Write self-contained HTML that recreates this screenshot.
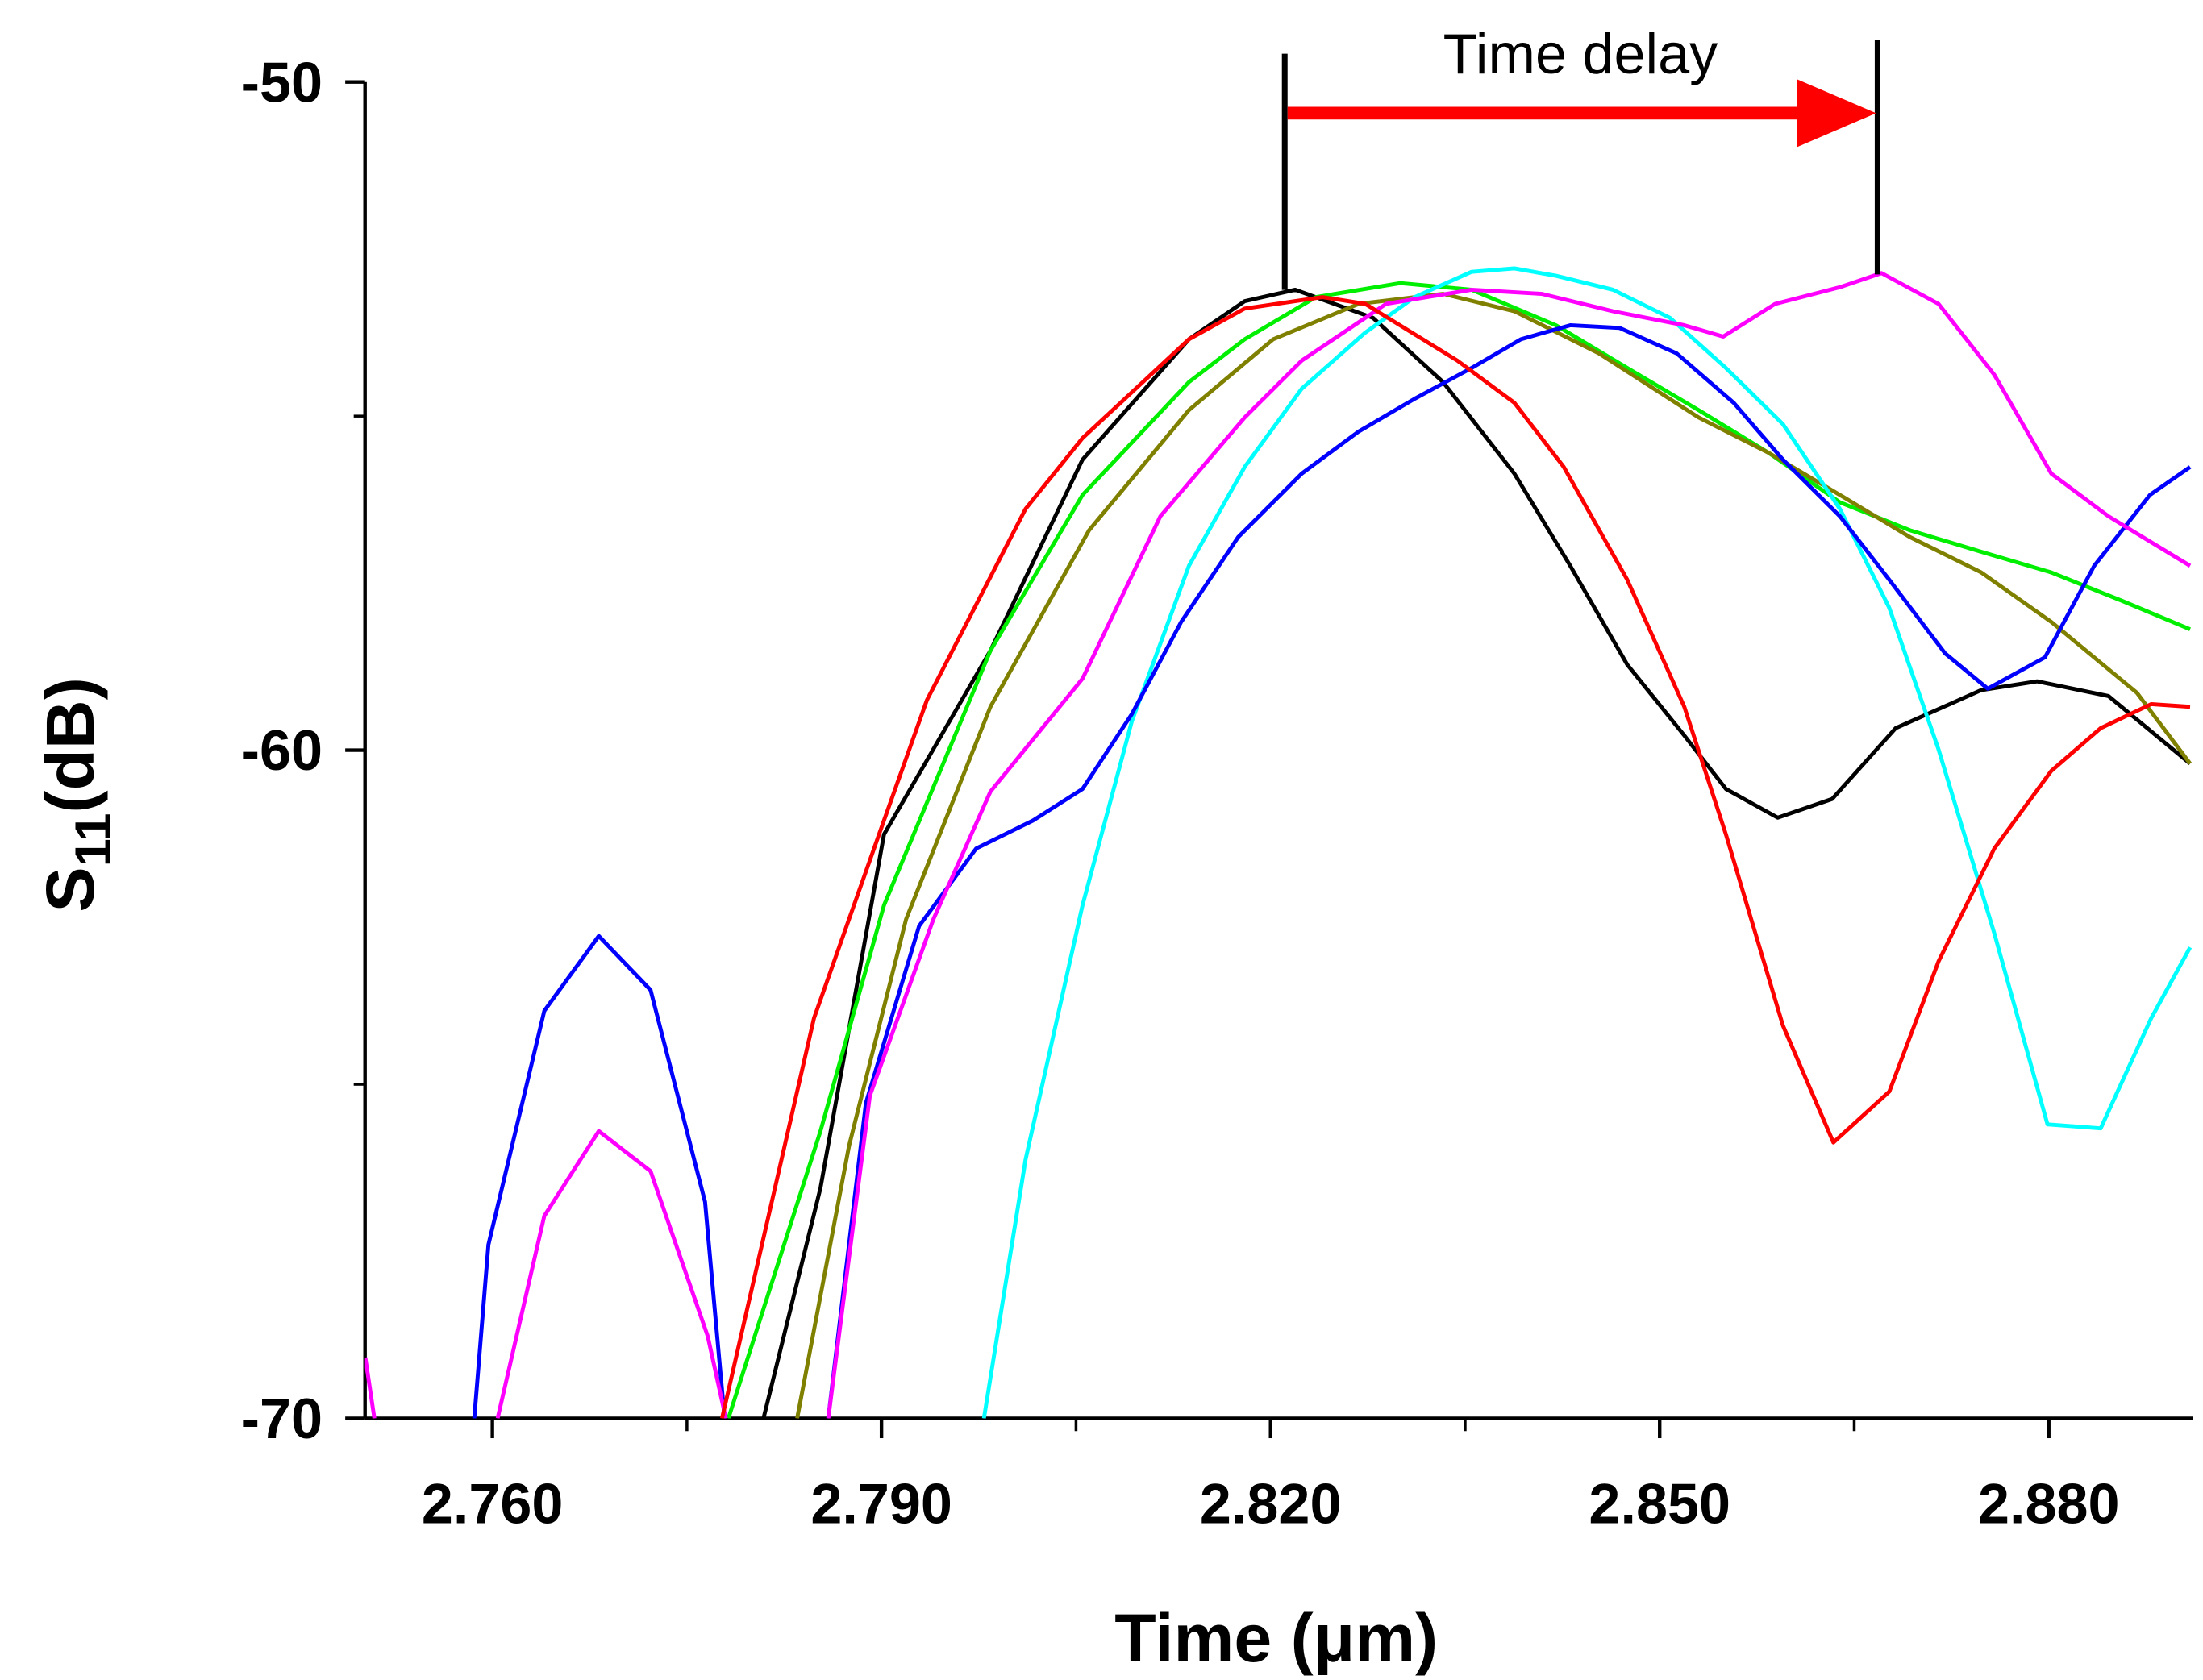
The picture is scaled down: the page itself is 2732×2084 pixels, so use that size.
<!DOCTYPE html>
<html><head><meta charset="utf-8"><style>
html,body{margin:0;padding:0;background:#fff;}
svg{display:block;}
</style></head><body>
<svg id="chart" width="2732" height="2084" viewBox="0 0 1557 1188" preserveAspectRatio="none" xmlns="http://www.w3.org/2000/svg" font-family="Liberation Sans, Arial, sans-serif">
<defs><clipPath id="plotclip"><rect x="258" y="0" width="1292" height="1003"/></clipPath></defs>
<g id="axes"></g>
<g id="series" clip-path="url(#plotclip)"></g>
<g id="annot">
  <line x1="908" y1="38" x2="908" y2="205" stroke="#000" stroke-width="4"/>
  <line x1="1327" y1="28" x2="1327" y2="194" stroke="#000" stroke-width="4"/>
  <line x1="910" y1="80" x2="1275" y2="80" stroke="#f00" stroke-width="9"/>
  <polygon points="1270,56 1326,80 1270,104" fill="#f00"/>
  <text x="1117" y="52" font-size="40" text-anchor="middle">Time delay</text>
</g>
<text x="902" y="1175" font-size="48" font-weight="bold" text-anchor="middle">Time (μm)</text>
<text transform="translate(66,562) rotate(-90)" font-size="48" font-weight="bold" text-anchor="middle">S<tspan font-size="36" dy="12">11</tspan><tspan dy="-12">(dB)</tspan></text>
</svg>
<script>
const xTicks=[2.760,2.790,2.820,2.850,2.880];
const xTickLabels=["2.760","2.790","2.820","2.850","2.880"];
const yTicks=[-50,-60,-70];
const yTickLabels=["-50","-60","-70"];
const blackT=[2.7809,2.7853,2.7902,2.7984,2.8055,2.8137,2.8180,2.8219,2.8279,2.8333,2.8388,2.8431,2.8475,2.8519,2.8551,2.8591,2.8633,2.8682,2.8748,2.8791,2.8846,2.8909];
const blackV=[-70,-66.55,-61.26,-58.51,-55.65,-53.85,-53.28,-53.11,-53.53,-54.49,-55.86,-57.24,-58.72,-59.78,-60.58,-61.01,-60.73,-59.67,-59.10,-58.97,-59.19,-60.20];
const redT=[2.7777,2.7848,2.7902,2.7935,2.8011,2.8055,2.8137,2.818,2.824,2.8273,2.8344,2.8388,2.8426,2.8475,2.8519,2.8551,2.8595,2.8634,2.8677,2.8715,2.8758,2.8802,2.8840,2.8879,2.8909];
const redV=[-70,-64.01,-61.05,-59.25,-56.39,-55.33,-53.85,-53.39,-53.22,-53.32,-54.17,-54.80,-55.76,-57.45,-59.35,-61.26,-64.12,-65.87,-65.11,-63.16,-61.47,-60.31,-59.67,-59.31,-59.35];
const greenT=[2.7782,2.7853,2.7902,2.7984,2.8055,2.8137,2.818,2.8235,2.830,2.8355,2.842,2.8475,2.853,2.8584,2.8639,2.8693,2.8748,2.8802,2.8857,2.8909];
const greenV=[-70,-65.70,-62.32,-58.51,-56.18,-54.49,-53.85,-53.22,-53.01,-53.11,-53.64,-54.28,-54.91,-55.55,-56.29,-56.71,-57.03,-57.34,-57.77,-58.19];
const oliveT=[2.7835,2.7875,2.7919,2.7984,2.806,2.8137,2.8202,2.8268,2.8333,2.8388,2.8453,2.853,2.8584,2.8639,2.8693,2.8748,2.8802,2.8868,2.8909];
const oliveV=[-70,-65.92,-62.53,-59.35,-56.71,-54.91,-53.85,-53.32,-53.17,-53.43,-54.06,-55.02,-55.55,-56.18,-56.81,-57.34,-58.08,-59.14,-60.20];
const magentaT=[2.7502,2.7509,null,2.7604,2.764,2.7682,2.7722,2.7766,2.778,null,2.7859,2.7891,2.794,2.7984,2.8055,2.8115,2.818,2.8224,2.8289,2.8355,2.8409,2.8464,2.8519,2.8549,2.8589,2.8639,2.8671,2.8715,2.8758,2.8802,2.8846,2.8909];
const magentaV=[-69.09,-70,null,-70,-66.97,-65.70,-66.30,-68.77,-70,null,-70,-65.17,-62.53,-60.62,-58.93,-56.50,-55.02,-54.17,-53.32,-53.11,-53.17,-53.43,-53.64,-53.81,-53.32,-53.07,-52.86,-53.32,-54.38,-55.86,-56.50,-57.24];
const blueT=[2.7586,2.7597,2.764,2.7682,2.7722,2.7764,2.7779,null,2.7859,2.7888,2.7929,2.7973,2.8017,2.8055,2.8093,2.8131,2.8175,2.8224,2.8268,2.8311,2.8355,2.8393,2.8431,2.8469,2.8513,2.8557,2.8595,2.8639,2.8677,2.872,2.8753,2.8797,2.8835,2.8878,2.8909];
const blueV=[-70,-67.40,-63.90,-62.78,-63.59,-66.76,-70,null,-70,-65.28,-62.63,-61.47,-61.05,-60.58,-59.46,-58.08,-56.81,-55.86,-55.23,-54.74,-54.28,-53.85,-53.64,-53.68,-54.06,-54.80,-55.65,-56.50,-57.45,-58.55,-59.08,-58.61,-57.24,-56.18,-55.76];
const cyanT=[2.7979,2.8011,2.8055,2.8093,2.8137,2.818,2.8224,2.8273,2.8311,2.8355,2.8388,2.842,2.8464,2.8508,2.8551,2.8595,2.8639,2.8677,2.8715,2.8758,2.8799,2.884,2.8879,2.8909];
const cyanV=[-70,-66.13,-62.32,-59.57,-57.24,-55.76,-54.59,-53.75,-53.22,-52.84,-52.79,-52.90,-53.11,-53.53,-54.28,-55.12,-56.39,-57.87,-59.99,-62.74,-65.60,-65.66,-64.01,-62.95];

const NS="http://www.w3.org/2000/svg";
function xs(t){return 348+(t-2.760)*9166.7;}
function ys(v){return 58+(-50-v)*47.25;}
function mk(tag,attrs,parent){const e=document.createElementNS(NS,tag);for(const k in attrs)e.setAttribute(k,attrs[k]);parent.appendChild(e);return e;}
const axes=document.getElementById('axes');
let e=mk('line',{x1:258,y1:58,x2:258,y2:1003,stroke:'#000','stroke-width':2.5},axes);


e=mk('line',{x1:258,y1:1003,x2:1550,y2:1003,stroke:'#000','stroke-width':2.5},axes);


yTicks.forEach((v,i)=>{
  const t=mk('line',{x1:244,y1:ys(v),x2:258,y2:ys(v),stroke:'#000','stroke-width':2.5},axes);
  
  
  const l=mk('text',{x:228,y:ys(v)+14,'font-size':40,'font-weight':'bold','text-anchor':'end'},axes);
  l.textContent=yTickLabels[i];
  
  
});
for(let i=0;i<yTicks.length-1;i++){
  const v=(yTicks[i]+yTicks[i+1])/2;
  const t=mk('line',{x1:250,y1:ys(v),x2:258,y2:ys(v),stroke:'#000','stroke-width':2},axes);
  
  
}
xTicks.forEach((v,i)=>{
  const t=mk('line',{x1:xs(v),y1:1003,x2:xs(v),y2:1017,stroke:'#000','stroke-width':2.5},axes);
  
  
  const l=mk('text',{x:xs(v),y:1077,'font-size':40,'font-weight':'bold','text-anchor':'middle'},axes);
  l.textContent=xTickLabels[i];
  
  
});
for(let v=2.745;v<2.892;v+=0.015){
  const x=xs(v); if(x<258||x>1550) continue;
  const t=mk('line',{x1:x,y1:1003,x2:x,y2:1012,stroke:'#000','stroke-width':2},axes);
  
  
}
const series=document.getElementById('series');
function draw(T,V,color,name){
  let d='',pen=false;
  for(let i=0;i<T.length;i++){
    if(T[i]===null){pen=false;continue;}
    d+=(pen?'L':'M')+xs(T[i]).toFixed(1)+' '+ys(V[i]).toFixed(1)+' ';pen=true;
  }
  const p=mk('path',{d:d,fill:'none',stroke:color,'stroke-width':2.8,'stroke-linejoin':'round'},series);
  
  
}
draw(blackT,blackV,'#000','series-black');
draw(greenT,greenV,'#00ee00','series-green');
draw(oliveT,oliveV,'#808000','series-olive');
draw(cyanT,cyanV,'#00ffff','series-cyan');
draw(blueT,blueV,'#0000ff','series-blue');
draw(magentaT,magentaV,'#ff00ff','series-magenta');
draw(redT,redV,'#ff0000','series-red');
</script>
</body></html>
